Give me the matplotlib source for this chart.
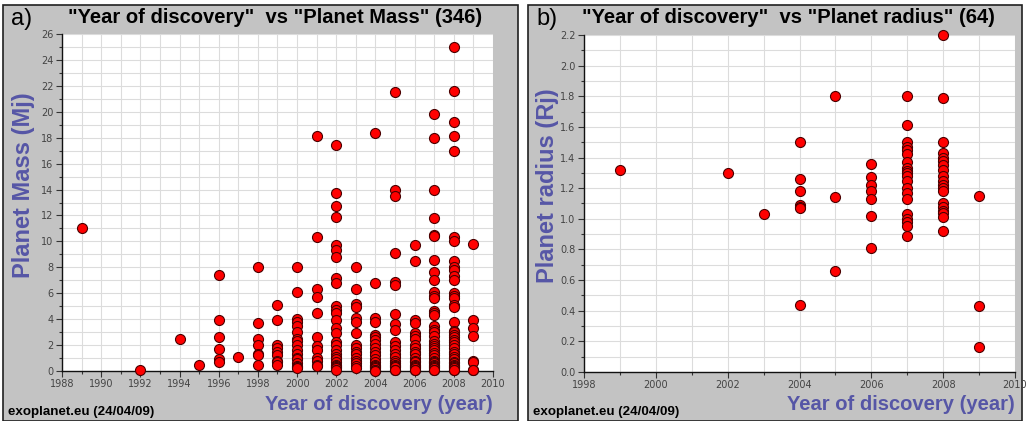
import matplotlib
matplotlib.use("Agg")
import matplotlib.pyplot as plt
from matplotlib.patches import Rectangle
from matplotlib.ticker import MultipleLocator

# discovery year -> planet masses (Mj)
mass_by_year = {
    1989: [11.0],
    1992: [0.05],
    1994: [2.5],
    1995: [0.5],
    1996: [7.4, 3.9, 2.6, 1.7, 0.9, 0.7],
    1997: [1.1],
    1998: [8.0, 3.7, 2.5, 2.0, 1.3, 1.2, 0.5],
    1999: [5.1, 3.9, 2.0, 1.8, 1.5, 1.2, 0.8, 0.7, 0.5],
    2000: [8.0, 6.1, 4.0, 3.8, 3.5, 3.0, 2.5, 2.3, 2.0, 1.6, 1.3, 1.0, 0.9,
           0.6, 0.4, 0.3, 0.2],
    2001: [18.1, 10.3, 6.3, 5.7, 4.5, 2.6, 1.9, 1.6, 1.0, 0.8, 0.5, 0.4],
    2002: [17.4, 13.7, 12.7, 11.9, 9.7, 9.3, 8.8, 7.2, 6.8, 5.0, 4.7, 4.5,
           3.9, 3.3, 2.9, 2.2, 2.0, 1.6, 1.3, 1.1, 0.9, 0.7, 0.5, 0.4, 0.3,
           0.2, 0.1],
    2003: [8.0, 6.3, 5.2, 4.9, 4.1, 3.8, 2.9, 2.0, 1.8, 1.5, 1.3, 1.0, 0.8,
           0.6, 0.4, 0.2],
    2004: [18.4, 6.8, 4.1, 3.8, 2.8, 2.6, 2.4, 2.1, 1.8, 1.5, 1.2, 0.9, 0.7,
           0.5, 0.4, 0.3, 0.2, 0.1, 0.05, 0.02],
    2005: [21.5, 14.0, 13.5, 9.1, 6.9, 6.6, 4.4, 3.6, 3.2, 2.2, 1.9, 1.6,
           1.3, 1.1, 0.8, 0.6, 0.5, 0.4, 0.3, 0.1, 0.05],
    2006: [9.7, 8.5, 3.9, 3.7, 2.9, 2.7, 2.5, 2.0, 1.8, 1.5, 1.3, 1.0, 0.8,
           0.7, 0.5, 0.4, 0.3, 0.2, 0.1, 0.05],
    2007: [19.8, 18.0, 14.0, 11.8, 10.5, 10.4, 8.6, 7.6, 7.0, 6.1, 5.8, 5.6,
           4.6, 4.5, 4.3, 3.5, 3.2, 3.0, 2.7, 2.3, 2.1, 1.9, 1.8, 1.6, 1.4,
           1.2, 1.0, 0.8, 0.7, 0.6, 0.5, 0.4, 0.3, 0.2, 0.1, 0.05],
    2008: [25.0, 21.6, 19.2, 18.1, 17.0, 10.3, 10.0, 8.5, 8.0, 7.8, 7.3, 7.0,
           6.0, 5.8, 5.6, 5.1, 4.9, 3.8, 3.1, 3.0, 2.8, 2.6, 2.4, 2.2, 2.0,
           1.8, 1.5, 1.3, 1.1, 0.9, 0.7, 0.6, 0.5, 0.4, 0.3, 0.2, 0.1, 0.05],
    2009: [9.8, 3.9, 3.3, 2.7, 0.8, 0.7, 0.1, 0.05],
}

# discovery year -> planet radii (Rj)
radius_by_year = {
    1999: [1.32],
    2002: [1.30],
    2003: [1.03],
    2004: [1.50, 1.26, 1.18, 1.09, 1.08, 1.07, 0.44],
    2005: [1.80, 1.14, 0.66],
    2006: [1.36, 1.27, 1.22, 1.18, 1.13, 1.02, 0.81],
    2007: [1.80, 1.61, 1.50, 1.47, 1.45, 1.42, 1.37, 1.33, 1.31, 1.30, 1.28,
           1.25, 1.20, 1.17, 1.13, 1.03, 1.00, 0.98, 0.95, 0.89],
    2008: [2.20, 1.79, 1.50, 1.43, 1.40, 1.38, 1.35, 1.32, 1.28, 1.25, 1.22,
           1.20, 1.18, 1.10, 1.08, 1.05, 1.04, 1.01, 0.92],
    2009: [1.15, 0.43, 0.16],
}

PANEL_BG = "#c3c3c3"
LABEL_COLOR = "#5656a6"
FONT = "Liberation Sans"


def flatten(d):
    xs, ys = [], []
    for year, vals in d.items():
        xs += [year] * len(vals)
        ys += vals
    return xs, ys


def draw_panel(fig, frame, ax_rect, title_x, letter, title, ylabel, data,
               xlim, ylim, ymajor, yminor, yfmt):
    x0, y0, w, h = frame
    fig.patches.append(Rectangle((x0, y0), w, h, transform=fig.transFigure,
                                 facecolor=PANEL_BG, edgecolor="#202020",
                                 linewidth=1.2, zorder=-5))
    ax = fig.add_axes(ax_rect)
    ax.set_facecolor("white")
    xs, ys = flatten(data)
    ax.scatter(xs, ys, s=52, color="#ff0000", edgecolors="#4a0000",
               linewidths=0.8, zorder=3, clip_on=False)
    ax.set_xlim(*xlim)
    ax.set_ylim(*ylim)
    ax.xaxis.set_major_locator(MultipleLocator(2))
    ax.xaxis.set_minor_locator(MultipleLocator(1))
    ax.yaxis.set_major_locator(MultipleLocator(ymajor))
    ax.yaxis.set_minor_locator(MultipleLocator(yminor))
    ax.yaxis.set_major_formatter(yfmt)
    ax.grid(True, which="both", color="#dcdcdc", linewidth=0.8, zorder=0)
    ax.set_axisbelow(True)
    for side in ("top", "right"):
        ax.spines[side].set_visible(False)
    for side in ("left", "bottom"):
        ax.spines[side].set_color("#111111")
        ax.spines[side].set_linewidth(1.0)
    ax.tick_params(which="major", length=4, width=0.8, color="#333333",
                   labelsize=7, labelcolor="#444444", pad=2)
    ax.tick_params(which="minor", length=2, width=0.8, color="#333333")
    for lab in ax.get_xticklabels() + ax.get_yticklabels():
        lab.set_fontfamily("DejaVu Sans")

    # header, axis titles and footer
    fig.text(x0 + 0.008, 0.955, letter, fontsize=17, family=FONT,
             ha="left", va="center")
    fig.text(title_x, 0.959, title, fontsize=14.5,
             family=FONT, fontweight="bold", ha="center", va="center")
    fig.text(x0 + 0.0195, 0.56, ylabel,
             fontsize=17, family=FONT, fontweight="bold", color=LABEL_COLOR,
             rotation=90, ha="center", va="center")
    fig.text(ax_rect[0] + ax_rect[2], 0.04, "Year of discovery (year)",
             fontsize=14.5, family=FONT, fontweight="bold", color=LABEL_COLOR,
             ha="right", va="center")
    fig.text(x0 + 0.005, 0.022, "exoplanet.eu (24/04/09)", fontsize=9.6,
             family=FONT, fontweight="bold", ha="left", va="center")
    return ax


fig = plt.figure(figsize=(10.26, 4.21), dpi=100)
fig.patch.set_facecolor("white")

draw_panel(fig, (0.003, 0.0, 0.502, 0.987), (0.0604, 0.1188, 0.4201, 0.8004),
           0.268, "a)", '"Year of discovery"  vs "Planet Mass" (346)',
           "Planet Mass (Mj)", mass_by_year, (1988, 2010), (0, 26),
           2, 1, "{x:.0f}")

draw_panel(fig, (0.5146, 0.0, 0.4815, 0.987), (0.5692, 0.1164, 0.4201, 0.8005),
           0.768, "b)", '"Year of discovery"  vs "Planet radius" (64)',
           "Planet radius (Rj)", radius_by_year, (1998, 2010), (0, 2.2),
           0.2, 0.1, "{x:.1f}")

fig.savefig("out.png", dpi=100)
